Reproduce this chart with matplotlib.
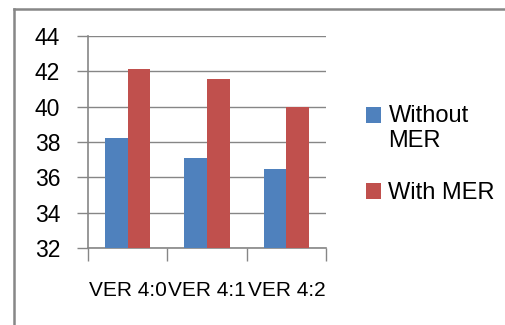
import numpy as np
import matplotlib
matplotlib.use('Agg')
import matplotlib.pyplot as plt
from matplotlib.lines import Line2D
from matplotlib.patches import Rectangle
from matplotlib.legend_handler import HandlerPatch

# data
categories = ['VER 4:0', 'VER 4:1', 'VER 4:2']
without_mer = [38.2, 37.1, 36.45]
with_mer = [42.15, 41.55, 40.0]
series_labels = ['Without\nMER', 'With MER']
y_ticks = [32, 34, 36, 38, 40, 42, 44]

plt.rcParams['font.family'] = ['Liberation Sans', 'DejaVu Sans']

fig = plt.figure(figsize=(5.05, 3.25), dpi=100)
ax = fig.add_axes([88 / 505, 1 - 248 / 325, 238 / 505, 212 / 325])

x = np.arange(len(categories))
w = 0.285
ax.bar(x - w / 2, without_mer, w, color='#4F81BD', label=series_labels[0], zorder=3)
ax.bar(x + w / 2, with_mer, w, color='#C0504D', label=series_labels[1], zorder=3)

ax.set_xlim(-0.5, len(categories) - 0.5)
ax.set_ylim(32, 44)
ax.set_yticks(y_ticks)
ax.yaxis.grid(True, color='#868686', linewidth=1.0, zorder=0)
ax.tick_params(axis='y', length=8, width=1, color='#868686', labelsize=16.5, pad=12)

# category boundary ticks, labels centred between them
ax.set_xticks(np.arange(len(categories) + 1) - 0.5)
ax.set_xticklabels([])
ax.set_xticks(x, minor=True)
ax.set_xticklabels(categories, minor=True, fontsize=15)
ax.tick_params(axis='x', which='major', length=9, width=1, color='#868686')
ax.tick_params(axis='x', which='minor', length=0, pad=24)

for s in ['top', 'right']:
    ax.spines[s].set_visible(False)
for s in ['left', 'bottom']:
    ax.spines[s].set_color('#868686')
    ax.spines[s].set_linewidth(1.2)
ax.set_axisbelow(True)


# legend square next to the first line of a two-line label
def top_square(legend, orig_handle, xdescent, ydescent, width, height, fontsize):
    return Rectangle((-xdescent, -ydescent + 10), width, height)


handles, labels = ax.get_legend_handles_labels()
ax.legend(handles, labels, loc='upper left',
          bbox_to_anchor=(366 / 505, 1 - 105 / 325),
          bbox_transform=fig.transFigure, frameon=False, fontsize=17,
          handlelength=0.65, handleheight=0.65, handletextpad=0.3,
          labelspacing=1.25, borderaxespad=0, borderpad=0,
          handler_map={handles[0]: HandlerPatch(
              patch_func=top_square,
              update_func=lambda lh, oh: lh.update_from(oh.patches[0]))})

# chart area border (right/bottom edges fall outside the image)
bx, by = 13.5 / 505, 1 - 8.5 / 325
fig.add_artist(Line2D([bx, bx], [0, by], transform=fig.transFigure,
                      color='#878787', linewidth=1.8))
fig.add_artist(Line2D([bx, 1], [by, by], transform=fig.transFigure,
                      color='#878787', linewidth=1.8))

fig.savefig('out.png', dpi=100)
